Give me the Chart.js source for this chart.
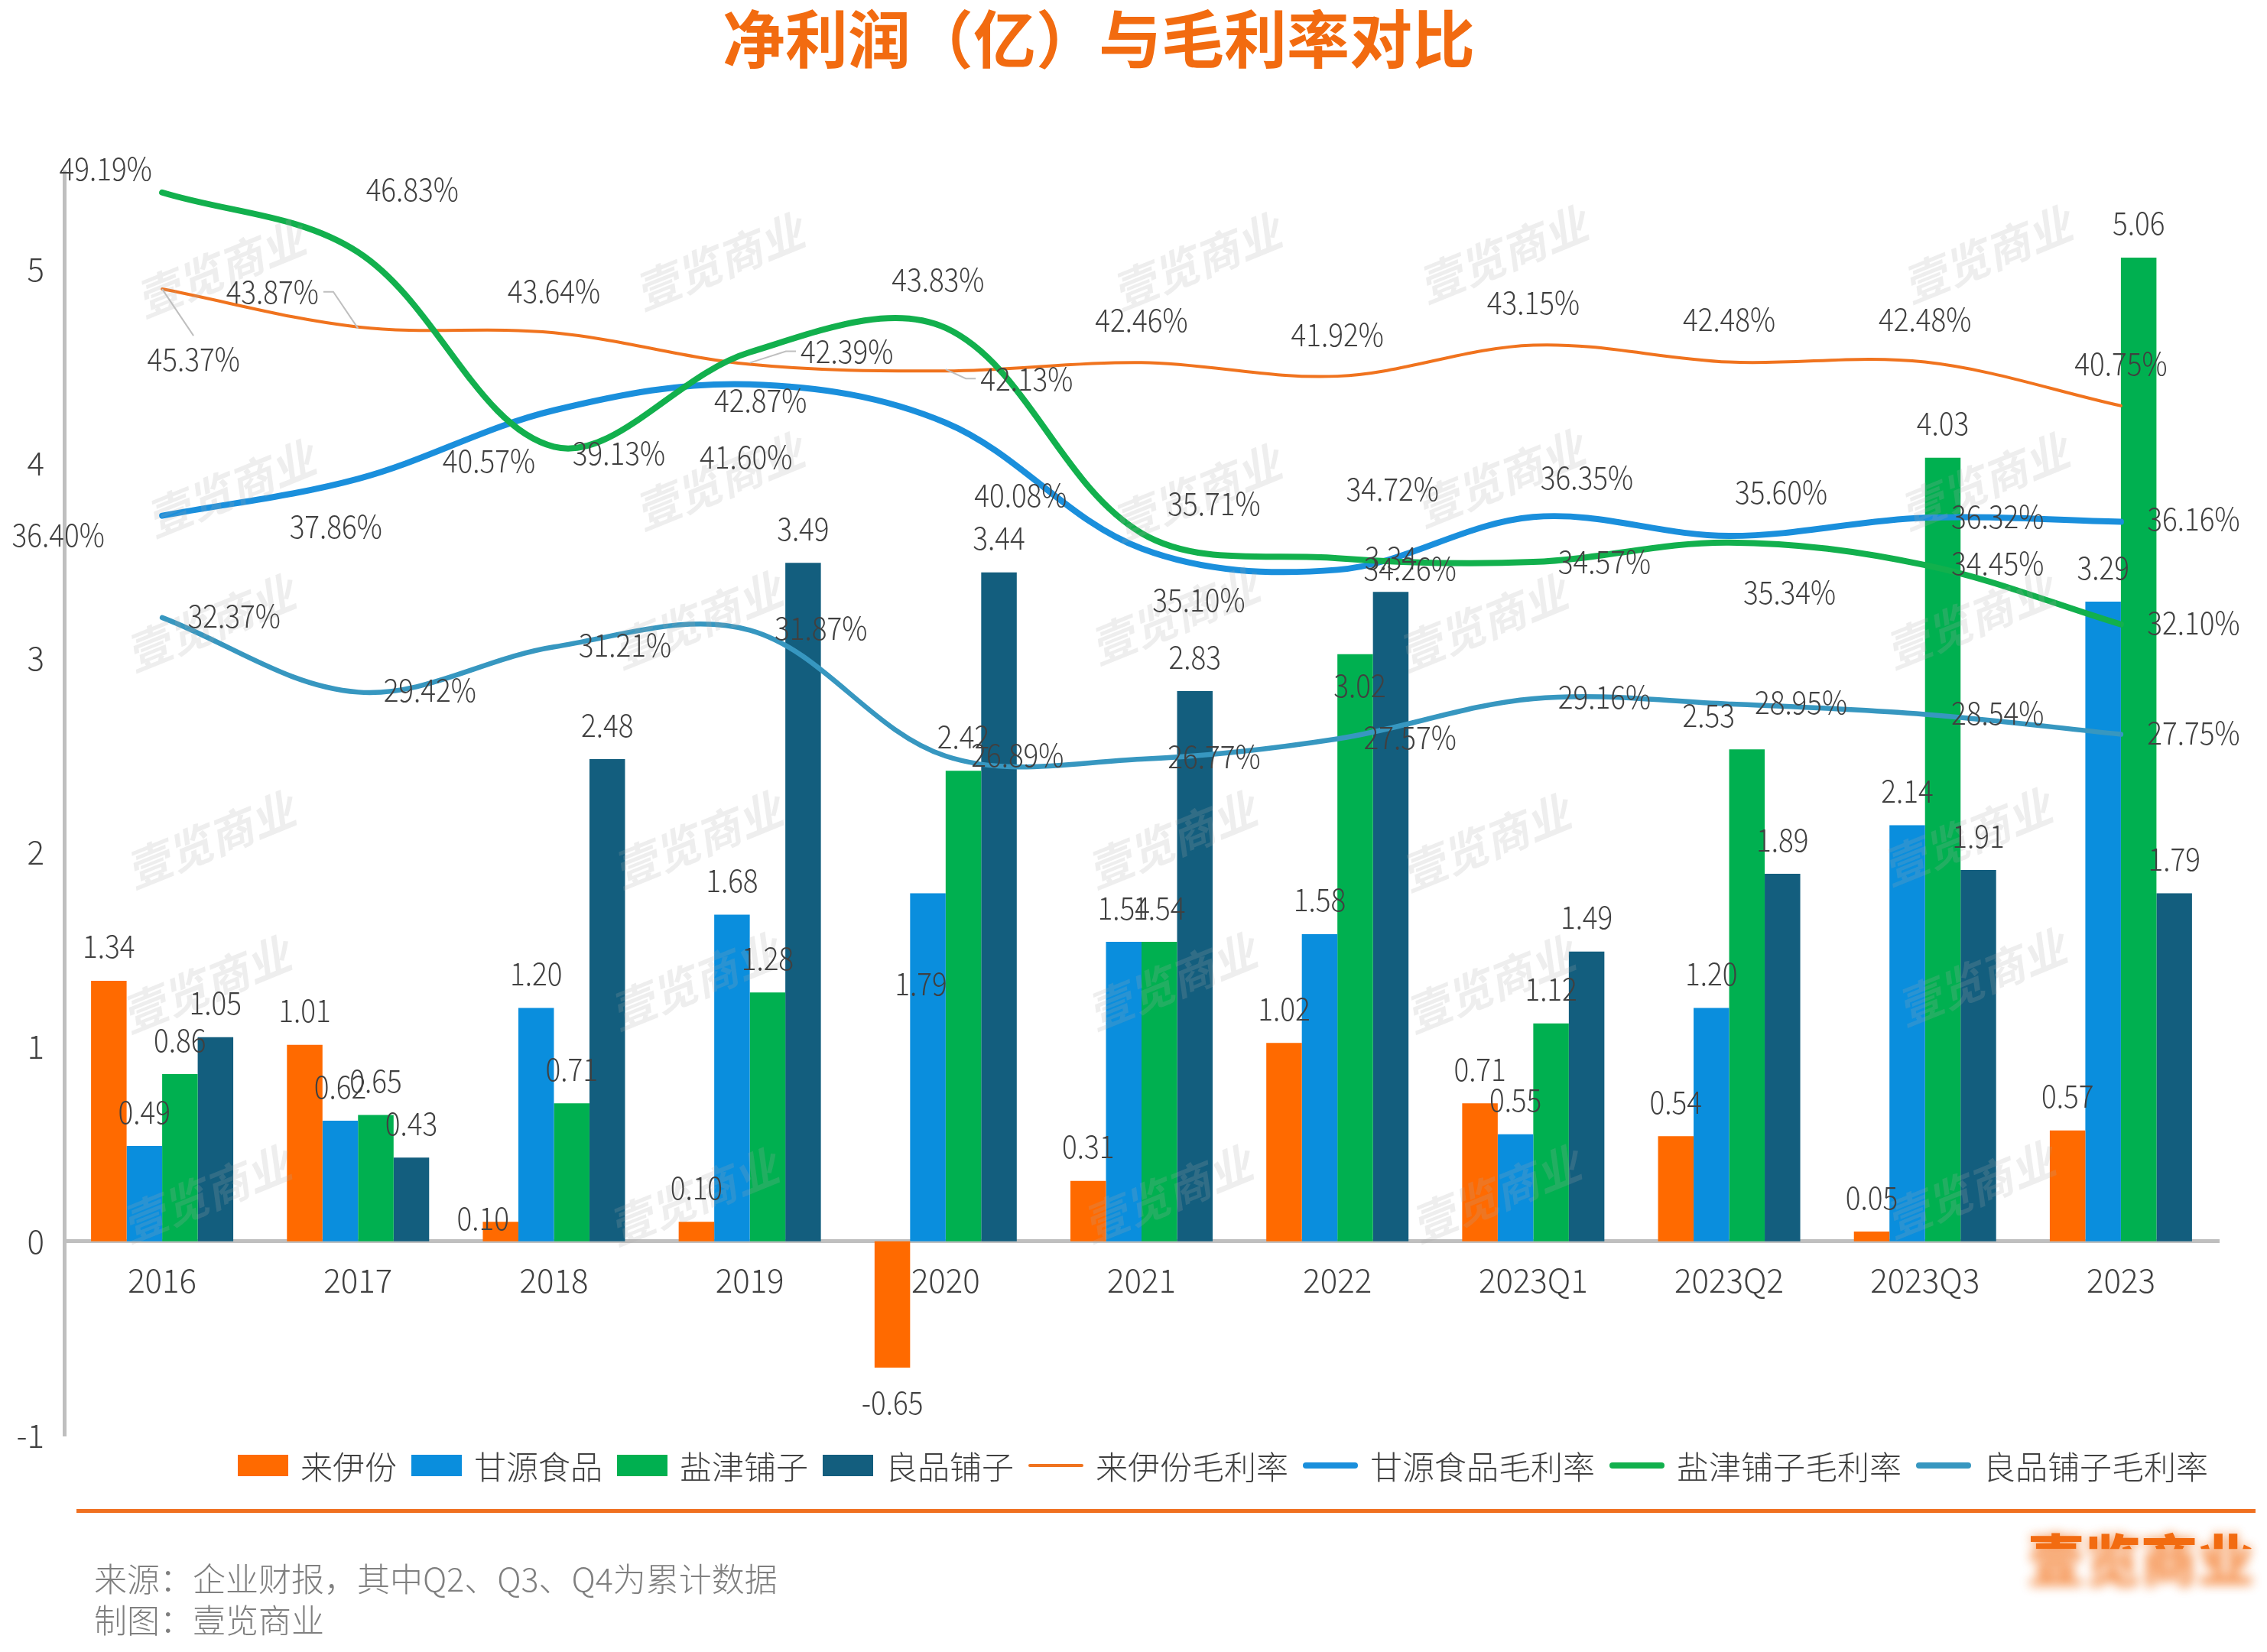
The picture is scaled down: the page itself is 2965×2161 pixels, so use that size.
<!DOCTYPE html>
<html>
<head>
<meta charset="utf-8">
<script src="https://cdn.jsdelivr.net/npm/chart.js@4.4.1/dist/chart.umd.min.js"></script>
<style>
html,body{margin:0;padding:0;background:#fff;}
#wrap{position:relative;width:2965px;height:2161px;overflow:hidden;background:#fff;font-family:"Noto Sans CJK SC",sans-serif;}
#c{position:absolute;left:0;top:0;}
#title{position:absolute;left:945px;top:6px;font-size:82px;font-weight:700;color:#F26B10;line-height:82px;white-space:nowrap;}
#legend{position:absolute;left:311px;top:1893px;height:48px;display:flex;align-items:center;font-size:42px;font-weight:300;line-height:48px;color:#404040;white-space:nowrap;}
.item{display:flex;align-items:center;margin-right:19px;}
.sw{width:66px;height:28px;margin-right:16px;}
.ln{width:72px;margin-right:16px;border-radius:4px;}
#sep{position:absolute;left:100px;top:1974px;width:2850px;height:5px;background:#F07020;}
.foot{position:absolute;left:123px;font-size:43px;font-weight:300;color:#7f7f7f;white-space:nowrap;line-height:50px;}
#logo{position:absolute;left:2652px;top:1992px;font-size:74px;font-weight:900;color:#F26B10;line-height:90px;white-space:nowrap;filter:blur(7px);opacity:0.7;}
#logo2{position:absolute;left:2652px;top:1992px;font-size:74px;font-weight:900;color:#F26B10;line-height:90px;white-space:nowrap;clip-path:inset(0 0 62% 0);}
</style>
</head>
<body>
<div id="wrap">
  <canvas id="c" width="2965" height="2161" style="width:2965px;height:2161px;"></canvas>
  <div id="title">净利润（亿）与毛利率对比</div>
  <div id="legend"></div>
  <div id="sep"></div>
  <div class="foot" style="top:2038px;">来源：企业财报，其中Q2、Q3、Q4为累计数据</div>
  <div class="foot" style="top:2092px;">制图：壹览商业</div>
  <div id="logo">壹览商业</div>
  <div id="logo2">壹览商业</div>
</div>
<script>
// ---------------- data ----------------
const categories = ['2016','2017','2018','2019','2020','2021','2022','2023Q1','2023Q2','2023Q3','2023'];
const laiyifenProfit = [1.34, 1.01, 0.10, 0.10, -0.65, 0.31, 1.02, 0.71, 0.54, 0.05, 0.57];
const ganyuanProfit  = [0.49, 0.62, 1.20, 1.68, 1.79, 1.54, 1.58, 0.55, 1.20, 2.14, 3.29];
const yanjinProfit   = [0.86, 0.65, 0.71, 1.28, 2.42, 1.54, 3.02, 1.12, 2.53, 4.03, 5.06];
const liangpinProfit = [1.05, 0.43, 2.48, 3.49, 3.44, 2.83, 3.34, 1.49, 1.89, 1.91, 1.79];
const laiyifenMargin = [45.37, 43.87, 43.64, 42.39, 42.13, 42.46, 41.92, 43.15, 42.48, 42.48, 40.75];
const ganyuanMargin  = [36.40, 37.86, 40.57, 41.60, 40.08, 35.10, 34.26, 36.35, 35.60, 36.32, 36.16];
const yanjinMargin   = [49.19, 46.83, 39.13, 42.87, 43.83, 35.71, 34.72, 34.57, 35.34, 34.45, 32.10];
const liangpinMargin = [32.37, 29.42, 31.21, 31.87, 26.89, 26.77, 27.57, 29.16, 28.95, 28.54, 27.75];
const profitTicks = [-1, 0, 1, 2, 3, 4, 5];
const seriesNames = ['来伊份','甘源食品','盐津铺子','良品铺子','来伊份毛利率','甘源食品毛利率','盐津铺子毛利率','良品铺子毛利率'];

// ---------------- styles ----------------
const COLORS = {
  barOrange:'#FF6A00', barBlue:'#0A8EDD', barGreen:'#00B050', barDark:'#135E7E',
  lnOrange:'#F0731E', lnBlue:'#1A8FDC', lnGreen:'#12B04D', lnTeal:'#3797C0'
};
const LINE_WIDTHS = [4, 8, 8, 6.5];
const FONT = '"Noto Sans CJK SC", sans-serif';
const LABEL_SIZE = 41;
const LABEL_SX = 0.9;
const BAR_GAP = 45;
// label offsets (px) relative to default position
const barLabelOffsets = [
  {2:[-23,40]},
  {4:[-9,163]},
  {6:[6,86], 8:[-50,0]},
  {}
];
const lineLabelOffsets = [
  [[41,91],[-112,-46],[0,-55],[127,-17],[106,10],[0,-56],[0,-55],[0,-56],[0,-56],[0,-56],[0,-55]],
  [[-136,25],[-29,62],[-85,66],[-5,95],[98,94],[75,67],[95,-2],[70,-52],[68,-58],[95,-2],[95,-4]],
  [[-74,-31],[71,-82],[85,8],[14,63],[-10,-64],[95,-39],[72,-91],[93,-1],[79,65],[95,-3],[95,-2]],
  [[94,-2],[94,-3],[93,-3],[93,-3],[94,-2],[95,-4],[95,-2],[93,-3],[94,-2],[95,-2],[95,-2]]
];
const leaderTypes = [
  {0:'top', 1:'right', 3:'left', 4:'left'}, {}, {}, {}
];
const watermarkSpots = [
  [155,185],[500,180],[830,180],[1042,175],[1377,175],
  [162,337],[500,332],[830,340],[1040,330],[1375,332],
  [148,430],[485,428],[815,425],[1028,430],[1365,428],
  [148,580],[485,580],[813,580],[1030,582],[1363,578],
  [145,680],[483,678],[813,678],[1033,680],[1373,675],
  [145,825],[482,827],[810,825],[1037,825],[1365,822]
].map(([x,y]) => [x*1.891, y*1.891]);

// ---------------- legend (HTML) ----------------
const legendColors = [COLORS.barOrange, COLORS.barBlue, COLORS.barGreen, COLORS.barDark, COLORS.lnOrange, COLORS.lnBlue, COLORS.lnGreen, COLORS.lnTeal];
const legendEl = document.getElementById('legend');
seriesNames.forEach((name, i) => {
  const item = document.createElement('div');
  item.className = 'item';
  const sw = document.createElement('div');
  if (i < 4) { sw.className = 'sw'; }
  else { sw.className = 'ln'; sw.style.height = (i === 4 ? 4 : 8) + 'px'; }
  sw.style.background = legendColors[i];
  const tx = document.createElement('span');
  tx.textContent = name;
  item.appendChild(sw); item.appendChild(tx);
  legendEl.appendChild(item);
});

// ---------------- plugin: watermark + labels ----------------
function drawLabel(ctx, text, cx, cy) {
  ctx.save();
  ctx.translate(cx, cy);
  ctx.scale(LABEL_SX, 1);
  ctx.fillText(text, 0, 0);
  ctx.restore();
}
const labelPlugin = {
  id: 'valueLabels',
  afterDatasetsDraw(chart) {
    const ctx = chart.ctx;
    ctx.save();
    ctx.font = '700 58px ' + FONT;
    ctx.fillStyle = 'rgba(170,170,170,0.2)';
    ctx.textAlign = 'center';
    ctx.textBaseline = 'middle';
    watermarkSpots.forEach(([x, y]) => {
      ctx.save(); ctx.translate(x, y); ctx.rotate(-22 * Math.PI / 180); ctx.transform(1, 0, -0.25, 1, 0, 0);
      ctx.fillText('壹览商业', 0, 0); ctx.restore();
    });
    ctx.restore();

    ctx.save();
    ctx.font = '300 ' + LABEL_SIZE + 'px ' + FONT;
    ctx.textAlign = 'center';
    ctx.textBaseline = 'middle';
    chart.data.datasets.forEach((ds, di) => {
      const meta = chart.getDatasetMeta(di);
      meta.data.forEach((el, i) => {
        const v = ds.data[i];
        let text, cx, cy;
        if (ds.type === 'line') {
          const li = di - 4;
          const off = lineLabelOffsets[li][i];
          text = v.toFixed(2) + '%';
          cx = el.x + off[0]; cy = el.y + off[1];
          const lt = leaderTypes[li][i];
          if (lt) {
            const w = ctx.measureText(text).width * LABEL_SX;
            const h = 30;
            ctx.save();
            ctx.strokeStyle = '#BFBFBF'; ctx.lineWidth = 2;
            ctx.beginPath();
            if (lt === 'top') { ctx.moveTo(el.x, el.y); ctx.lineTo(cx, cy - h/2 - 15); }
            else if (lt === 'right') { ctx.moveTo(cx + w/2 + 6, cy); ctx.lineTo(cx + w/2 + 19, cy); ctx.lineTo(el.x, el.y + 2); }
            else if (lt === 'left') { ctx.moveTo(cx - w/2 - 6, cy); ctx.lineTo(cx - w/2 - 19, cy); ctx.lineTo(el.x, el.y - 2); }
            ctx.stroke();
            ctx.restore();
          }
        } else {
          const off = barLabelOffsets[di][i] || [0, 0];
          text = v.toFixed(2);
          cx = el.x + off[0];
          cy = (v >= 0 ? el.y - BAR_GAP : el.y + BAR_GAP) + off[1];
        }
        ctx.fillStyle = '#404040';
        drawLabel(ctx, text, cx, cy);
      });
    });
    ctx.restore();
  }
};

// ---------------- chart ----------------
const barCommon = { yAxisID: 'y', order: 10, categoryPercentage: 0.726, barPercentage: 1, borderWidth: 0 };
const lineCommon = { type: 'line', yAxisID: 'y1', pointRadius: 0, pointHoverRadius: 0, tension: 0.35, fill: false, borderCapStyle: 'round', borderJoinStyle: 'round' };
const profitSeries = [laiyifenProfit, ganyuanProfit, yanjinProfit, liangpinProfit];
const marginSeries = [laiyifenMargin, ganyuanMargin, yanjinMargin, liangpinMargin];
const barColors = [COLORS.barOrange, COLORS.barBlue, COLORS.barGreen, COLORS.barDark];
const lineColors = [COLORS.lnOrange, COLORS.lnBlue, COLORS.lnGreen, COLORS.lnTeal];
const lineOrders = [4, 3, 2, 1];

const datasets = [];
profitSeries.forEach((d, i) => datasets.push(Object.assign({}, barCommon, { label: seriesNames[i], data: d, backgroundColor: barColors[i] })));
marginSeries.forEach((d, i) => datasets.push(Object.assign({}, lineCommon, { label: seriesNames[4 + i], data: d, borderColor: lineColors[i], backgroundColor: lineColors[i], borderWidth: LINE_WIDTHS[i], order: lineOrders[i] })));

new Chart(document.getElementById('c'), {
  type: 'bar',
  data: { labels: categories, datasets },
  options: {
    responsive: false,
    animation: false,
    events: [],
    layout: { padding: { left: 0, top: 225, right: 63, bottom: 283 } },
    plugins: { legend: { display: false }, tooltip: { enabled: false }, title: { display: false } },
    scales: {
      x: {
        position: { y: 0 },
        offset: true,
        grid: { display: false, drawTicks: false },
        border: { display: true, color: '#BFBFBF', width: 5 },
        ticks: { color: '#404040', font: { family: FONT, size: 42, weight: 300 }, padding: 26, maxRotation: 0, autoSkip: false }
      },
      y: {
        position: 'left',
        min: -1, max: 5.5,
        afterBuildTicks(scale) { scale.ticks = profitTicks.map(v => ({ value: v })); },
        ticks: { color: '#404040', font: { family: FONT, size: 42, weight: 300 }, padding: 26 },
        grid: { display: false, drawTicks: false },
        border: { display: true, color: '#BFBFBF', width: 5 },
        afterFit(scale) { scale.width = 84; }
      },
      y1: { display: false, min: 0, max: 50 }
    }
  },
  plugins: [labelPlugin]
});
</script>
</body>
</html>
